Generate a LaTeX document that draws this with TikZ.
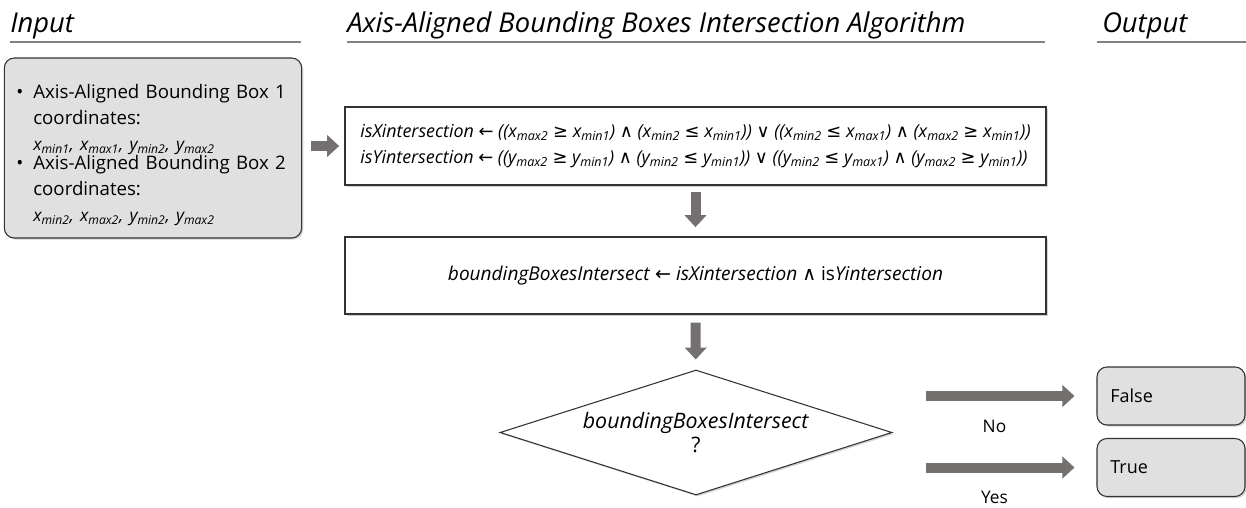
\documentclass[tikz,border=0pt]{standalone}
\usepackage{fontspec}
\setmainfont{Open Sans}
\newfontfamily\symfont{DejaVu Sans}
\usetikzlibrary{arrows.meta,shapes.geometric,shadows,positioning,calc}
\definecolor{arrowgray}{RGB}{116,112,112}
\definecolor{boxgray}{RGB}{224,224,224}
\definecolor{rulegray}{RGB}{130,130,130}
\newcommand{\sbx}[2]{#1\textsubscript{#2}}
\newcommand{\getsym}{{\symfont\upshape ←}}
\newcommand{\gesym}{{\symfont\upshape ≥}}
\newcommand{\lesym}{{\symfont\upshape ≤}}
\newcommand{\andsym}{{\symfont\upshape ∧}}
\newcommand{\orsym}{{\symfont\upshape ∨}}

\begin{document}
\begin{tikzpicture}[x=0.75pt, y=-0.75pt,
  heading/.style={anchor=base west, inner sep=0pt, font=\fontsize{20.5}{24}\selectfont\itshape},
  procbox/.style={draw=black!80, line width=0.8pt, fill=white, minimum width=525.75pt,
    drop shadow={shadow xshift=1.2pt, shadow yshift=-1.2pt, opacity=0.35}},
  roundbox/.style={draw=black!80, line width=0.8pt, fill=boxgray, rounded corners=7.5pt,
    drop shadow={shadow xshift=1.2pt, shadow yshift=-1.2pt, opacity=0.35}},
  decision/.style={diamond, aspect=3.1, draw=black!80, line width=0.8pt, fill=white, inner sep=0pt,
    minimum width=294pt, minimum height=93.75pt, align=center,
    drop shadow={shadow xshift=1.2pt, shadow yshift=-1.2pt, opacity=0.35}},
  fatarrow/.style={draw=arrowgray, line width=7.5pt, -{Triangle[length=9pt, width=16pt]}}]

  \useasboundingbox (0,0) rectangle (1246,507);

  % column headings
  \node[heading] (hin) at (10,32) {Input};
  \node[heading] (halg) at (347,32) {Axis-Aligned Bounding Boxes Intersection Algorithm};
  \node[heading] (hout) at (1102,32) {Output};
  \draw[rulegray, line width=1pt] (10,42) -- (301,42);
  \draw[rulegray, line width=1pt] (347,42) -- (1045,42);
  \draw[rulegray, line width=1pt] (1097,42) -- (1246,42);

  % input
  \node[roundbox, minimum width=217.5pt, minimum height=135pt, inner xsep=9pt,
    text width=205pt, align=left, font=\fontsize{14}{19.5}\selectfont] (input) at (153,148) {%
    \rule{0pt}{21pt}\makebox[12.75pt][l]{\textbullet}Axis-Aligned Bounding Box 1\\
    \hspace*{12.75pt}coordinates:\\
    \hspace*{12.75pt}{\fontsize{13}{14}\selectfont\itshape \sbx{x}{min1}, \sbx{x}{max1}, \sbx{y}{min2}, \sbx{y}{max2}}\\[-5pt]
    \makebox[12.75pt][l]{\textbullet}Axis-Aligned Bounding Box 2\\
    \hspace*{12.75pt}coordinates:\\
    \hspace*{12.75pt}{\fontsize{13}{14}\selectfont\itshape \sbx{x}{min2}, \sbx{x}{max2}, \sbx{y}{min2}, \sbx{y}{max2}}};

  % algorithm
  \node[procbox, minimum height=58.5pt, align=left, font=\fontsize{13.4}{19.5}\selectfont\itshape] (xycheck) at (695.5,146) {%
    isXintersection \getsym{} ((\sbx{x}{max2} \gesym{} \sbx{x}{min1}) \andsym{} (\sbx{x}{min2} \lesym{} \sbx{x}{min1})) \orsym{} ((\sbx{x}{min2} \lesym{} \sbx{x}{max1}) \andsym{} (\sbx{x}{max2} \gesym{} \sbx{x}{min1}))\\
    isYintersection \getsym{} ((\sbx{y}{max2} \gesym{} \sbx{y}{min1}) \andsym{} (\sbx{y}{min2} \lesym{} \sbx{y}{min1})) \orsym{} ((\sbx{y}{min2} \lesym{} \sbx{y}{max1}) \andsym{} (\sbx{y}{max2} \gesym{} \sbx{y}{min1}))};
  \node[procbox, minimum height=57.75pt, font=\fontsize{14.3}{16}\selectfont] (bbcheck) at (695.5,275.5) {%
    \textit{boundingBoxesIntersect} \getsym{} \textit{isXintersection} \andsym{} is\textit{Yintersection}};
  \node[decision, font=\fontsize{16}{18}\selectfont] (dec) at (696,432.5) {\textit{boundingBoxesIntersect}\\?};

  % output
  \node[roundbox, minimum width=111pt, minimum height=43.5pt, inner xsep=10pt, text width=91pt,
    align=left, font=\fontsize{13.5}{16}\selectfont] (falsebox) at (1171,396) {False};
  \node[roundbox, minimum width=111pt, minimum height=43.5pt, inner xsep=10pt, text width=91pt,
    align=left, font=\fontsize{13.5}{16}\selectfont] (truebox) at (1171,467.5) {True};

  \draw[fatarrow, shorten <=6.5pt, shorten >=4pt] (input.east |- xycheck.west) -- (xycheck.west);
  \draw[fatarrow, shorten <=5pt, shorten >=7pt] (xycheck) -- (bbcheck);
  \draw[fatarrow, shorten <=6pt, shorten >=7.5pt] (bbcheck) -- (dec);
  \draw[fatarrow, shorten <=25pt, shorten >=16.5pt] (dec.east |- falsebox.west) -- (falsebox.west)
    node[midway, yshift=-22.5pt, text=black, font=\fontsize{13}{16}\selectfont] (nolbl) {No};
  \draw[fatarrow, shorten <=25pt, shorten >=16.5pt] (dec.east |- truebox.west) -- (truebox.west)
    node[midway, yshift=-22.5pt, text=black, font=\fontsize{13}{16}\selectfont] (yeslbl) {Yes};
\end{tikzpicture}
\end{document}
